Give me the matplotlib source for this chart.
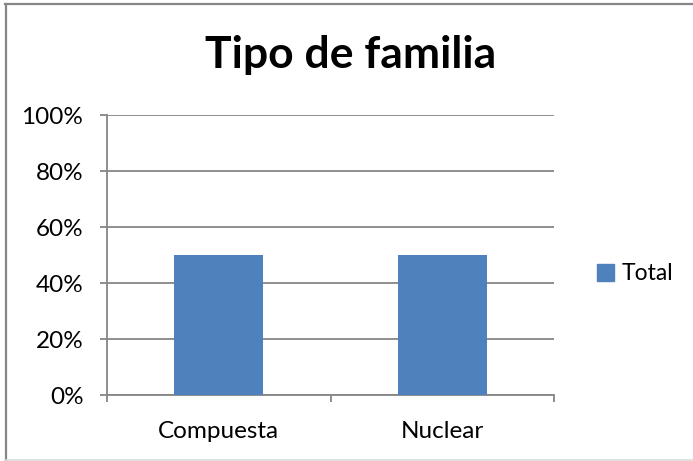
import matplotlib
matplotlib.use("Agg")
import matplotlib.pyplot as plt
from matplotlib.lines import Line2D
from matplotlib.patches import Patch

categories = ["Compuesta", "Nuclear"]
values = [0.5, 0.5]
yticks = [0, 0.2, 0.4, 0.6, 0.8, 1.0]
ytick_labels = ["0%", "20%", "40%", "60%", "80%", "100%"]
series_name = "Total"
title = "Tipo de familia"

plt.rcParams['font.family'] = ['Lato', 'DejaVu Sans']
W, H = 693, 461
fig = plt.figure(figsize=(W/100, H/100), dpi=100)
ax = fig.add_axes([107/W, 1-395/H, (554-107)/W, (395-115)/H])

grey = "#868686"
x = list(range(len(categories)))
ax.bar(x, values, width=0.4, color="#4F81BD", zorder=3)
ax.set_xlim(-0.5, len(categories)-0.5)
ax.set_ylim(0, 1)
ax.set_yticks(yticks)
ax.set_yticklabels(ytick_labels, fontsize=17.5)
ax.set_xticks(x)
ax.set_xticklabels(categories, fontsize=17.5)
ax.set_xticks([i - 0.5 for i in range(len(categories)+1)], minor=True)
ax.tick_params(axis='x', which='major', length=0, pad=19)
ax.tick_params(axis='x', which='minor', length=5, direction='out', color=grey, width=1.3)
ax.tick_params(axis='y', length=5, direction='out', color=grey, width=1.3, pad=12)
ax.grid(axis='y', color=grey, linewidth=1.3, zorder=0)
for s in ['top', 'right']:
    ax.spines[s].set_visible(False)
for s in ['left', 'bottom']:
    ax.spines[s].set_color(grey)
    ax.spines[s].set_linewidth(1.3)
ax.set_axisbelow(True)

fig.text(351/W, 1-55/H, title, ha='center', va='center', fontsize=32, fontweight='bold')

handles = [Patch(color="#4F81BD", label=series_name)]
fig.legend(handles=handles, loc='center left', bbox_to_anchor=(586/W, 1-274/H),
           frameon=False, fontsize=16.5, handlelength=0.7, handleheight=0.7,
           handletextpad=0.35, borderpad=0)

# outer chart border
fig.add_artist(Line2D([5.5/W, 5.5/W], [0, 1-4/H], transform=fig.transFigure, color=grey, lw=1.6))
fig.add_artist(Line2D([5/W, 1], [1-4.5/H, 1-4.5/H], transform=fig.transFigure, color=grey, lw=1.6))
fig.add_artist(Line2D([5/W, 1], [1-460/H, 1-460/H], transform=fig.transFigure, color="#d9d9d9", lw=1.2))

fig.savefig("out.png", dpi=100)
